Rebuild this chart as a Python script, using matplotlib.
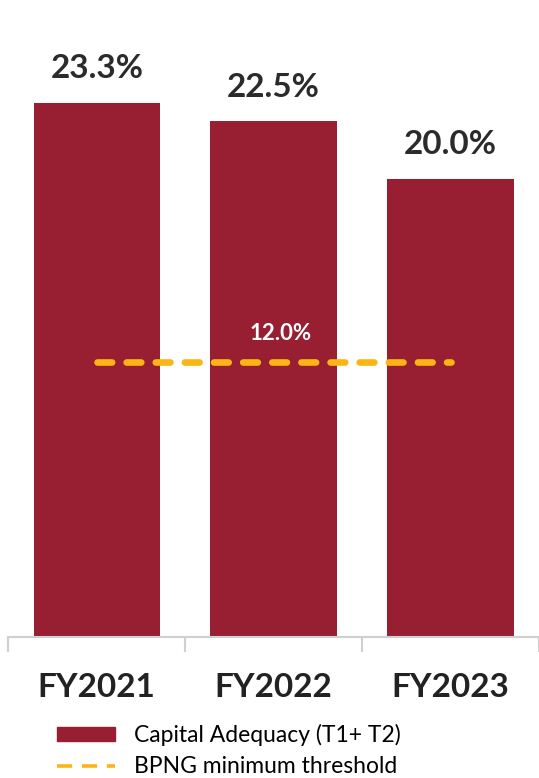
import matplotlib.pyplot as plt
from matplotlib.patches import Patch
from matplotlib.lines import Line2D

# Data
years = ['FY2021', 'FY2022', 'FY2023']
capital_adequacy = [23.3, 22.5, 20.0]
threshold = 12.0

bar_color = '#981E32'
line_color = '#FDB515'
plt.rcParams['font.family'] = ['Lato', 'DejaVu Sans']

fig = plt.figure(figsize=(5.39, 7.78), dpi=100)
ax = fig.add_axes([0, 141 / 778, 1, 637 / 778])

x = list(range(len(years)))
ax.bar(x, capital_adequacy, width=0.715, color=bar_color, zorder=2)

# value labels above bars
for xi, v in zip(x, capital_adequacy):
    ax.text(xi, v + 0.85, f'{v:.1f}%', ha='center', va='bottom',
            fontsize=24, fontweight='bold', color='#2b2b2b')

# threshold line
ax.plot([x[0], x[-1]], [threshold, threshold], color=line_color, lw=4.8,
        dashes=(2.2, 2.17), dash_capstyle='round', zorder=3)
ax.text(1.04, threshold + 1.25, f'{threshold:.1f}%', ha='center', va='center',
        fontsize=16, fontweight='bold', color='white', zorder=4)

ax.set_xlim(-0.547, 2.464)
ax.set_ylim(0, 637 / 22.92)

for s in ['top', 'right', 'left']:
    ax.spines[s].set_visible(False)
ax.spines['bottom'].set_color('#d0d0d0')
ax.spines['bottom'].set_linewidth(1.5)
ax.spines['bottom'].set_bounds(-0.5, 2.6)
ax.set_yticks([])

ax.set_xticks(x)
ax.set_xticklabels(years, fontsize=24, fontweight='bold', color='#222222')
ax.tick_params(axis='x', which='major', length=0, pad=26)
ax.set_xticks([-0.5, 0.5, 1.5, 2.5], minor=True)
ax.tick_params(axis='x', which='minor', length=11, width=1.5, color='#d0d0d0')

handles = [Patch(color=bar_color),
           Line2D([0], [0], color=line_color, lw=2.6, dashes=(4.2, 2.7))]
labels = ['Capital Adequacy (T1+ T2)', 'BPNG minimum threshold']
fig.legend(handles, labels, loc='upper left', bbox_to_anchor=(57 / 539, 1 - 724 / 778),
           frameon=False, fontsize=16.5, handlelength=2.55, handleheight=0.6,
           labelspacing=0.45, handletextpad=0.8, borderaxespad=0, borderpad=0)

plt.savefig('out.png', dpi=100)
